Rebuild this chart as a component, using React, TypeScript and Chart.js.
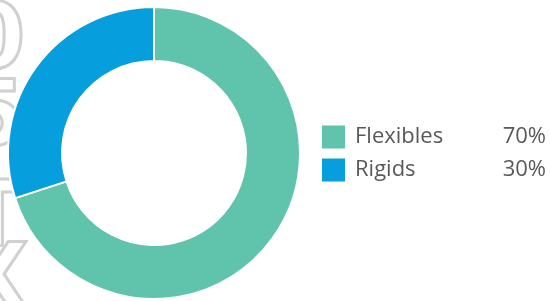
import React, { useEffect, useRef } from "react";
import { Chart, registerables } from "chart.js";

Chart.register(...registerables);

const categories = ["Flexibles", "Rigids"];
const values = [70, 30];
const percentLabels = ["70%", "30%"];
const colors = ["#60C4AC", "#069EDC"];
const watermarkChars = ["0", "5", "T", "X"];

const sideLegend = {
  id: "sideLegend",
  afterDraw(chart: any) {
    const ctx = chart.ctx;
    ctx.save();
    const rowY = [137, 170];
    categories.forEach((c, i) => {
      const y = rowY[i];
      ctx.fillStyle = colors[i];
      ctx.fillRect(322, y - 11.5, 23, 23);
      ctx.fillStyle = "#595959";
      ctx.font = "22px 'Open Sans', sans-serif";
      ctx.textBaseline = "middle";
      ctx.textAlign = "left";
      ctx.fillText(c, 355, y);
      ctx.textAlign = "right";
      ctx.fillText(percentLabels[i], 546, y);
    });
    ctx.restore();
  },
};

const watermark = {
  id: "watermark",
  beforeDraw(chart: any) {
    const ctx = chart.ctx;
    ctx.save();
    ctx.strokeStyle = "#d0d0d0";
    ctx.lineWidth = 3;
    ctx.font = "bold 90px 'DejaVu Sans', sans-serif";
    ctx.textAlign = "center";
    ctx.textBaseline = "middle";
    const ys = [45, 122, 222, 285];
    watermarkChars.forEach((ch, i) => {
      ctx.strokeText(ch, -6, ys[i]);
    });
    ctx.restore();
  },
};

export default function App() {
  const ref = useRef<HTMLCanvasElement>(null);
  useEffect(() => {
    const chart = new Chart(ref.current!, {
      type: "doughnut",
      data: {
        labels: categories,
        datasets: [
          {
            data: values,
            backgroundColor: colors,
            borderColor: "#ffffff",
            borderWidth: 2,
            hoverOffset: 0,
          },
        ],
      },
      options: {
        responsive: false,
        animation: false,
        cutout: "63%",
        layout: { padding: { left: 7, top: 6, right: 249, bottom: 1 } },
        plugins: {
          legend: { display: false },
          tooltip: { enabled: false },
        },
      },
      plugins: [watermark, sideLegend],
    });
    return () => chart.destroy();
  }, []);
  return (
    <div style={{ position: "fixed", left: 0, top: 0, width: 550, height: 301, background: "#fff" }}>
      <canvas ref={ref} width={550} height={301} />
    </div>
  );
}
